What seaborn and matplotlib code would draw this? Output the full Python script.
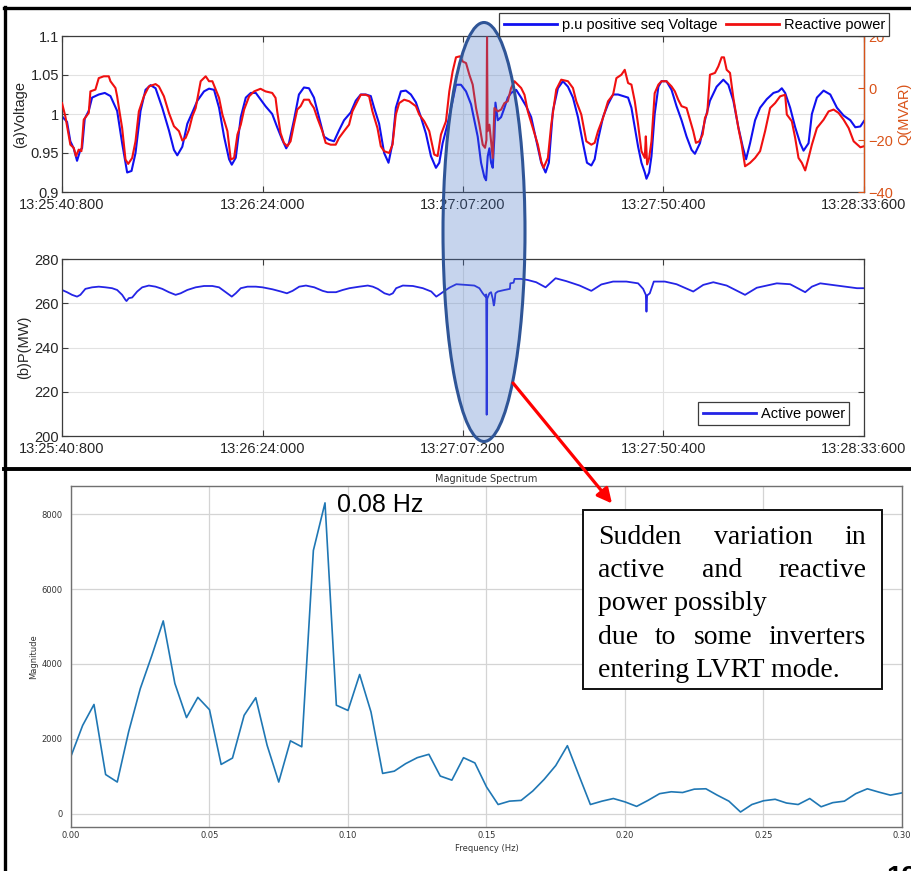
import matplotlib
matplotlib.use("Agg")
import matplotlib.pyplot as plt
import numpy as np
import pandas as pd
import seaborn as sns
from matplotlib.patches import Ellipse, Rectangle, FancyArrowPatch
from matplotlib.lines import Line2D

# ------------------------------------------------------------------ data
time_tick_values = [0.0, 43.2, 86.4, 129.6, 172.8]
time_tick_labels = ["13:25:40:800", "13:26:24:000", "13:27:07:200", "13:27:50:400", "13:28:33:600"]

# (a) positive-sequence voltage (p.u.), time in s from 13:25:40.800
volt_t = [0.0, 1.08, 1.8, 2.52, 3.24, 3.96, 4.32, 4.9, 5.76, 6.48,
          7.92, 9.22, 10.44, 11.88, 12.96, 13.68, 14.04, 14.98, 15.84, 16.92,
          18.0, 19.08, 20.16, 21.6, 23.04, 24.12, 24.84, 25.92, 27.0, 28.08,
          29.16, 30.6, 31.68, 32.76, 33.84, 34.92, 36.0, 36.58, 37.44, 38.52,
          39.6, 40.68, 41.76,
          43.85, 45.29, 46.37, 47.45, 48.31, 48.89, 49.97, 51.05, 52.13, 53.21,
          54.29, 55.37, 56.45, 57.53, 58.61, 59.69, 60.77, 62.21, 63.29, 64.37,
          65.45, 66.53, 67.25, 68.33, 69.41, 70.35, 71.21, 71.93, 73.01, 74.09,
          75.17, 76.25, 77.33, 78.41, 79.49, 80.57, 81.29, 82.01, 83.09, 84.17,
          84.89, 85.97, 87.05, 88.13, 88.85, 89.57, 90.29, 91.01, 91.37, 91.73,
          92.09, 92.45, 92.81, 93.17, 93.39, 93.89, 94.61, 95.33, 96.05, 96.77,
          97.85, 98.93, 100.01, 101.09, 102.17, 103.25, 104.19, 104.9, 105.77, 106.85,
          107.93, 109.01, 110.09, 111.17, 112.25, 113.11, 114.05, 114.77, 115.49, 116.57,
          117.65, 118.73, 119.81, 120.89, 121.97, 122.69, 123.41, 124.13, 124.85, 125.57,
          125.93, 126.51, 127.01, 127.7,
          128.5, 129.17, 130.25, 131.33, 132.41, 133.49, 134.57, 135.65, 136.37, 137.45,
          138.53, 139.61, 141.05, 142.49, 143.57, 144.65, 145.73, 146.67, 147.39, 148.25,
          149.33, 150.41, 151.85, 153.29, 154.37, 155.09, 155.81, 156.89, 157.97, 159.05,
          159.77, 160.85, 161.57, 162.65, 164.09, 165.53, 166.97, 168.41, 169.85, 170.93,
          172.01, 172.8]
volt_pu = [0.997, 0.990, 0.965, 0.956, 0.940, 0.954, 0.956, 0.994, 1.004, 1.021,
           1.025, 1.027, 1.023, 1.004, 0.9625, 0.9375, 0.925, 0.927, 0.950, 1.004,
           1.031, 1.037, 1.033, 1.008, 0.979, 0.954, 0.947, 0.958, 0.9875, 1.002,
           1.017, 1.029, 1.0325, 1.031, 1.008, 0.971, 0.942, 0.935, 0.944, 0.996,
           1.021, 1.027, 1.027,
           1.010, 1.0, 0.983, 0.967, 0.956, 0.9625, 0.992, 1.025, 1.034, 1.033,
           1.021, 0.996, 0.971, 0.967, 0.965, 0.979, 0.992, 1.002, 1.017, 1.025,
           1.025, 1.023, 1.008, 0.9875, 0.950, 0.9375, 0.9625, 1.008, 1.029, 1.030,
           1.025, 1.015, 0.996, 0.975, 0.946, 0.931, 0.9375, 0.9625, 0.9875, 1.017,
           1.0375, 1.0375, 1.029, 1.0125, 0.992, 0.971, 0.9375, 0.919, 0.915, 0.946,
           0.956, 0.9375, 0.931, 0.971, 1.0146, 0.992, 0.996, 1.008, 1.021, 1.027,
           1.031, 1.021, 1.010, 0.996, 0.967, 0.9375, 0.925, 0.9375, 1.004, 1.033,
           1.042, 1.035, 1.021, 0.996, 0.9625, 0.9375, 0.934, 0.942, 0.967, 0.996,
           1.0125, 1.025, 1.025, 1.023, 1.021, 1.008, 0.983, 0.958, 0.9375, 0.925,
           0.917, 0.925, 0.946, 1.0,
           1.035, 1.042, 1.042, 1.031, 1.010, 0.992, 0.971, 0.954, 0.949, 0.9625,
           0.992, 1.017, 1.035, 1.044, 1.0375, 1.017, 0.983, 0.958, 0.942, 0.9625,
           0.992, 1.008, 1.019, 1.027, 1.029, 1.033, 1.027, 1.008, 0.983, 0.9625,
           0.953, 0.9625, 1.0, 1.021, 1.030, 1.025, 1.008, 0.998, 0.992, 0.983,
           0.984, 0.991]

# (a) reactive power (MVAR)
q_t = [0.0, 0.72, 1.8, 2.52, 3.02, 3.6, 4.18, 4.68, 5.76, 6.12,
       7.2, 7.92, 9.0, 10.08, 10.44, 11.52, 11.88, 12.38, 12.96, 13.68,
       14.26, 15.12, 15.84, 16.56, 17.64, 18.72, 20.16, 20.88, 21.96, 23.04,
       24.12, 25.2, 25.92, 26.64, 27.36, 28.08, 28.8, 29.88, 30.96, 31.68,
       32.4, 33.12, 33.84, 34.56, 35.64, 36.36, 37.08, 37.8, 38.52, 39.24,
       40.32, 41.4,
       42.77, 43.85, 45.29, 46.01, 46.37, 47.09, 47.81, 48.53, 49.25, 49.97,
       50.69, 51.41, 52.13, 53.21, 53.57, 54.29, 55.01, 56.09, 56.81, 57.89,
       58.97, 59.69, 60.77, 61.85, 62.57, 63.65, 64.37, 65.45, 66.17, 66.89,
       67.97, 68.69, 69.41, 70.49, 71.21, 71.93, 72.65, 73.73, 74.81, 76.25,
       76.97, 78.05, 79.13, 80.21, 80.93, 81.65, 82.73, 83.45, 84.17, 84.89,
       85.75, 86.33, 87.05, 87.77, 88.49, 89.21, 89.93, 90.65, 91.15, 91.45,
       91.58, 91.7, 92.09, 92.45, 92.81, 93.17, 93.89, 94.61, 95.33, 96.05,
       96.77, 97.49, 98.21, 98.93, 99.65, 100.37, 101.45, 102.53, 103.25, 103.75,
       104.69, 105.41, 106.49, 107.57, 109.01, 110.09, 110.81, 111.89, 112.97, 114.05,
       114.77, 115.49, 116.57, 117.65, 118.73, 119.45, 120.53, 121.25, 121.97, 122.69,
       123.41, 124.13, 124.85, 125.57, 125.79, 126.07, 126.5, 127.01, 127.7,
       128.5, 129.17, 130.25, 131.33, 132.05, 132.77, 133.49, 134.57, 135.29, 136.01,
       136.59, 137.31, 138.03, 138.53, 139.03, 139.61, 140.69, 141.41, 142.13, 142.63,
       143.21, 143.93, 144.65, 145.73, 146.45, 147.17, 148.25, 149.33, 150.41, 151.49,
       152.57, 153.65, 154.73, 155.81, 156.17, 157.25, 157.97, 158.69, 159.41, 160.13,
       160.85, 161.57, 162.65, 164.09, 165.17, 166.25, 167.33, 168.41, 169.49, 170.57,
       172.01, 172.8]
q_mvar = [-5.8, -10.9, -21.8, -23, -26.2, -23.7, -24.3, -12.2, -9.6, -1.3,
          -0.6, 3.8, 4.5, 4.5, 2.6, 0, -3.2, -9, -15.4, -27.5,
          -29.2, -26.9, -20.5, -9, -3.2, 0.6, 1.5, 0.6, -3.2, -9.6,
          -14.7, -16.6, -20.2, -19.2, -16, -10.9, -7.7, 2.6, 4.5, 2.6,
          2.6, -0.6, -3.8, -10.2, -16.6, -27.5, -26.9, -17.9, -14.1, -8.3,
          -3.2, -1.3,
          -0.3, -1.3, -1.9, -3.8, -9, -17.3, -21.1, -22.4, -20.5, -14.1,
          -8.3, -7, -4.5, -4.5, -5.8, -7.7, -11.5, -16.6, -21.1, -21.8,
          -21.8, -19.2, -16.6, -14.1, -9, -5.1, -2.6, -2.6, -3.2, -9,
          -15.4, -22.4, -24.3, -25, -21.8, -10.2, -5.8, -4.5, -5.1, -7,
          -10.2, -12.8, -16.6, -25.6, -26.2, -17.9, -12.8, -1.3, 6.4, 11.8,
          12.2, 10.2, 9.6, 5.1, 1.3, -7.7, -14.1, -21.8, -23, -20,
          19.5, -16.6, -14.1, -20.5, -26.9, -7.7, -9, -8.3, -5.8, -5.1,
          0, 2.6, 1.3, 0, -2.6, -9, -15.4, -21.8, -28.2, -30.7,
          -26.9, -14.1, -0.6, 3.2, 2.6, 0, -5.1, -10.2, -20.5, -21.8,
          -21.1, -16.6, -11.5, -5.1, -2.6, 3.8, 5.1, 7, 1.9, 1.3,
          -5.1, -14.1, -24.3, -26.9, -18.6, -29.4, -27, -20.5, -2,
          1.3, 2.6, 2.6, 0.6, -1.3, -4.5, -7, -7.7, -12.2, -16.6,
          -21.1, -20.5, -17.9, -11.5, -9.6, 5.1, 5.8, 8.3, 11.8, 11.8,
          7, 5.8, -3.8, -15.4, -21.8, -30.1, -28.8, -26.9, -24.3, -16.6,
          -7.7, -5.8, -3.2, -2.6, -10.2, -12.8, -19.2, -26.9, -28.8, -31.7,
          -26.9, -21.8, -15.4, -12.2, -9, -8.3, -9.6, -12.2, -15.4, -20.5,
          -22.8, -22.4]

# (b) active power (MW)
p_t = [0.0, 1.08, 2.16, 3.24, 3.96, 5.04, 6.48, 7.92, 9.36, 10.8,
       11.88, 12.96, 13.68, 13.9, 14.4, 15.12, 16.2, 17.28, 18.72, 20.16,
       21.6, 23.04, 24.48, 25.56, 27.0, 28.8, 30.6, 32.4, 33.84, 35.28,
       36.58, 37.44, 38.52, 39.96, 41.76, 43.2, 45.36, 47.16, 48.46, 49.68,
       51.12, 52.56, 54.36, 56.16, 57.24, 59.04, 60.48, 61.92, 64.08, 65.88,
       66.96, 68.04, 69.48, 70.56, 71.28, 72.0, 73.44, 75.6, 77.76, 79.56,
       80.64, 81.36, 82.44, 83.52, 84.96, 86.98, 88.85, 89.93, 90.65, 91.23,
       91.4, 91.5, 91.62, 92.09, 92.45, 92.81, 93.03, 93.17, 93.39, 93.89,
       95.33, 96.05, 96.5, 96.6, 97.3, 97.5, 98.93, 100.37, 102.17, 104.19,
       106.35, 108.65, 111.53, 114.05, 116.21, 118.73, 121.61, 124.13, 125.21, 125.79,
       125.93, 126.07, 126.65, 127.51, 129.89, 132.41, 136.01, 138.17, 140.33, 143.21,
       147.17, 149.69, 154.01, 156.89, 160.13, 161.57, 163.37, 166.97, 171.29, 172.8]
p_mw = [266.0, 265.0, 263.8, 263.0, 263.8, 266.5, 267.2, 267.5, 267.2, 266.8,
        266.0, 263.8, 261.5, 261.0, 262.3, 262.6, 265.3, 267.2, 268.0, 267.5,
        266.5, 265.0, 263.8, 264.5, 266.0, 267.2, 267.8, 267.8, 267.2, 265.0,
        263.0, 264.5, 266.8, 267.5, 267.5, 267.2, 266.3, 265.3, 264.5, 265.6,
        267.5, 268.0, 267.2, 265.6, 265.0, 265.0, 266.0, 266.8, 267.5, 268.0,
        267.5, 266.5, 264.5, 263.8, 264.5, 266.8, 268.0, 267.8, 266.8, 265.3,
        263.0, 264.0, 265.6, 267.1, 268.6, 268.3, 268.0, 266.8, 264.5, 263.0,
        264.0, 209.6, 262.0, 264.5, 265.0, 262.0, 259.0, 260.0, 264.5, 265.3,
        266.0, 266.3, 266.5, 269.0, 269.3, 271.0, 271.0, 270.5, 269.5, 267.2,
        271.3, 270.0, 268.0, 265.6, 268.5, 269.8, 269.8, 269.0, 266.5, 263.8,
        256.2, 263.5, 264.5, 269.8, 269.8, 268.6, 265.3, 268.3, 269.5, 268.0,
        263.8, 267.0, 269.0, 268.6, 265.0, 267.5, 269.0, 268.0, 266.8, 266.8]

# magnitude spectrum
freq_hz = [0.0, 0.0042, 0.0083, 0.0125, 0.0167, 0.0208, 0.025, 0.0292, 0.0333, 0.0375,
           0.0417, 0.0458, 0.05, 0.0542, 0.0583, 0.0625, 0.0667, 0.0708, 0.075, 0.0792,
           0.0833, 0.0875, 0.0917, 0.0958, 0.1, 0.1042, 0.1083, 0.1125, 0.1167, 0.1208,
           0.125, 0.1292, 0.1333, 0.1375, 0.1417, 0.1458, 0.15, 0.1542, 0.1583, 0.1625,
           0.1667, 0.1708, 0.175, 0.1792, 0.1833, 0.1875, 0.1917, 0.1958, 0.2, 0.2042,
           0.2083, 0.2125, 0.2167, 0.2208, 0.225, 0.2292, 0.2333, 0.2375, 0.2417, 0.2458,
           0.25, 0.2542, 0.2583, 0.2625, 0.2667, 0.2708, 0.275, 0.2792, 0.2833, 0.2875,
           0.2917, 0.2958, 0.3]
magnitude = [1540, 2360, 2920, 1050, 850, 2190, 3340, 4230, 5150, 3480,
             2570, 3110, 2780, 1320, 1490, 2630, 3100, 1830, 850, 1950,
             1790, 7030, 8300, 2900, 2760, 3720, 2720, 1080, 1140, 1340,
             1500, 1590, 1010, 900, 1500, 1360, 720, 250, 340, 360,
             610, 920, 1290, 1820, 1040, 250, 340, 410, 320, 200,
             360, 540, 590, 570, 660, 670, 500, 340, 50, 250,
             350, 390, 290, 250, 410, 190, 300, 340, 540, 670,
             580, 500, 560]
freq_ticks = [0.0, 0.05, 0.10, 0.15, 0.20, 0.25, 0.30]
mag_ticks = [0, 2000, 4000, 6000, 8000]

note_lines = [["Sudden", "variation", "in"],
              ["active", "and", "reactive"],
              ["power possibly"],
              ["due", "to", "some", "inverters"],
              ["entering LVRT mode."]]

# ------------------------------------------------------------------ figure
W, H = 912, 871
plt.rcParams["font.family"] = ["Liberation Sans", "DejaVu Sans"]
fig = plt.figure(figsize=(W / 100, H / 100), dpi=100)


def fx(p):
    return p / W


def fy(p):
    return 1 - p / H


BLUE = "#1010f0"
RED = "#f01010"
ORANGE = "#D95319"
TXT = "#262626"
SPINE = "#3c3c3c"
FS = 10.5


def matlab_style(ax, right=True):
    for s in ax.spines.values():
        s.set_color(SPINE)
        s.set_linewidth(0.9)
    ax.grid(True, color="#e2e2e2", lw=0.8)
    ax.set_axisbelow(True)
    ax.tick_params(axis="both", direction="in", length=4, width=0.8, color=SPINE,
                   labelsize=FS, labelcolor=TXT, top=True, right=right)
    ax.tick_params(axis="x", pad=4)
    ax.tick_params(axis="y", pad=2)
    ax.set_xlim(0, 172.8)
    ax.set_xticks(time_tick_values)
    ax.set_xticklabels(time_tick_labels)


# ---- (a) voltage / reactive power
ax1 = fig.add_axes([fx(62), fy(192), (864 - 62) / W, (192 - 36) / H])
sns.lineplot(data=pd.DataFrame({"t": volt_t, "v": volt_pu}), x="t", y="v", ax=ax1,
             color=BLUE, linewidth=1.5, estimator=None, sort=False, legend=False)
matlab_style(ax1, right=False)
ax1.set_ylim(0.9, 1.1)
ax1.set_yticks([0.9, 0.95, 1.0, 1.05, 1.1])
ax1.set_yticklabels(["0.9", "0.95", "1", "1.05", "1.1"])
ax1.set_xlabel("")
ax1.set_ylabel("(a)Voltage", fontsize=FS, color=TXT)
ax1.yaxis.set_label_coords((27 - 62) / 802, 0.5)

ax2 = ax1.twinx()
sns.lineplot(data=pd.DataFrame({"t": q_t, "q": q_mvar}), x="t", y="q", ax=ax2,
             color=RED, linewidth=1.5, estimator=None, sort=False, legend=False)
ax2.set_ylim(-40, 20)
ax2.set_yticks([-40, -20, 0, 20])
ax2.set_xlim(0, 172.8)
for k in ["top", "left", "bottom"]:
    ax2.spines[k].set_visible(False)
ax2.spines["right"].set_color(ORANGE)
ax2.spines["right"].set_linewidth(0.9)
ax2.tick_params(axis="y", direction="in", length=4, width=0.8, colors=ORANGE,
                labelsize=FS, pad=3)
ax2.set_xlabel("")
ax2.set_ylabel("Q(MVAR)", fontsize=FS, color=ORANGE)
ax2.yaxis.set_label_coords((897 - 62) / 802, 0.5)

# ---- (b) active power
ax3 = fig.add_axes([fx(62), fy(436), (864 - 62) / W, (436 - 259) / H])
sns.lineplot(data=pd.DataFrame({"t": p_t, "p": p_mw}), x="t", y="p", ax=ax3,
             color="#2424e6", linewidth=1.3, estimator=None, sort=False, legend=False)
matlab_style(ax3, right=True)
ax3.set_ylim(200, 280)
ax3.set_yticks([200, 220, 240, 260, 280])
ax3.set_xlabel("")
ax3.set_ylabel("(b)P(MW)", fontsize=FS, color=TXT)
ax3.yaxis.set_label_coords((31 - 62) / 802, 0.5)
ax3.legend([Line2D([], [], color="#2424e6", lw=2)], ["Active power"],
           loc="lower right", bbox_to_anchor=(fx(849.5), fy(425)),
           bbox_transform=fig.transFigure, fontsize=FS, frameon=True, fancybox=False,
           edgecolor=SPINE, framealpha=1, handlelength=3.65, handletextpad=0.35,
           borderpad=0.3, borderaxespad=0)
ax3.get_legend().get_frame().set_linewidth(0.9)

# legend of (a), drawn above the orange "20" label as in the source
leg = fig.legend([Line2D([], [], color=BLUE, lw=2), Line2D([], [], color=RED, lw=2)],
                 ["p.u positive seq Voltage", "Reactive power"],
                 loc="upper right", bbox_to_anchor=(fx(889.5), fy(13.3)),
                 ncol=2, fontsize=FS, frameon=True, fancybox=False, edgecolor=SPINE,
                 framealpha=1, handlelength=3.65, handletextpad=0.35,
                 columnspacing=0.55, borderpad=0.3, borderaxespad=0)
leg.get_frame().set_linewidth(0.9)
leg.set_zorder(6)

# ---- magnitude spectrum
ax4 = fig.add_axes([fx(71), fy(827), (902 - 71) / W, (827 - 486) / H])
sns.lineplot(data=pd.DataFrame({"f": freq_hz, "m": magnitude}), x="f", y="m", ax=ax4,
             color="#1f77b4", linewidth=1.2, estimator=None, sort=False, legend=False)
ax4.set_xlim(0, 0.3)
ax4.set_ylim(-350, 8750)
ax4.set_xticks(freq_ticks)
ax4.set_xticklabels([f"{v:.2f}" for v in freq_ticks])
ax4.set_yticks(mag_ticks)
ax4.grid(True, color="#d4d4d4", lw=0.9)
ax4.set_axisbelow(True)
for s in ax4.spines.values():
    s.set_color("#707070")
    s.set_linewidth(1.0)
ax4.tick_params(axis="both", length=0, labelsize=6, labelcolor="#333333")
ax4.tick_params(axis="x", pad=3)
ax4.tick_params(axis="y", pad=6)
for lbl in ax4.get_xticklabels() + ax4.get_yticklabels():
    lbl.set_fontfamily("DejaVu Sans")
ax4.set_title("Magnitude Spectrum", fontsize=7, family="DejaVu Sans", color="#333333", pad=3)
ax4.set_xlabel("Frequency (Hz)", fontsize=6, family="DejaVu Sans", color="#333333")
ax4.set_ylabel("Magnitude", fontsize=6, family="DejaVu Sans", color="#333333")
ax4.xaxis.set_label_coords(0.5, (827 - 844) / 341)
ax4.yaxis.set_label_coords((38 - 71) / 831, 0.5)

fig.text(fx(337), fy(511.5), "0.08 Hz", fontsize=18, family=["Liberation Sans", "DejaVu Sans"],
         color="black", ha="left", va="baseline")

# ---- annotations: frame lines, ellipse, arrow, note box
for xs, ys, lw in [([5, 5], [7, 871], 2.4), ([4, 912], [8, 8], 2.4), ([4, 912], [468.5, 468.5], 2.8)]:
    fig.add_artist(Line2D([fx(x) for x in xs], [fy(y) for y in ys], transform=fig.transFigure,
                          color="black", lw=lw, zorder=3))

fig.add_artist(Ellipse((fx(484), fy(232)), 82 / W, 419 / H, transform=fig.transFigure,
                       facecolor="#4472C4", alpha=0.3, edgecolor="none", zorder=4))
fig.add_artist(Ellipse((fx(484), fy(232)), 82 / W, 419 / H, transform=fig.transFigure,
                       facecolor="none", edgecolor="#2F5597", lw=2.2, zorder=4.1))

fig.add_artist(FancyArrowPatch((fx(513), fy(383)), (fx(612), fy(503.5)), transform=fig.transFigure,
                               arrowstyle="-|>", mutation_scale=22, color="#ff0000", lw=2.3,
                               shrinkA=0, shrinkB=0, zorder=5))

fig.add_artist(Rectangle((fx(582.7), fy(689.3)), (881.7 - 582.7) / W, (689.3 - 510) / H,
                         transform=fig.transFigure, facecolor="white", edgecolor="#111111",
                         lw=1.4, zorder=5))

word_x = [[597.7, 714.3, None], [597.7, 701.7, None], [597.7], [597.7, 655, 694, None], [597.7]]
baselines = [544, 577.3, 610.5, 644, 677.3]
for words, xs, yb in zip(note_lines, word_x, baselines):
    for w, x in zip(words, xs):
        if x is None:
            fig.text(fx(866), fy(yb), w, ha="right", va="baseline", fontsize=20,
                     family=["Liberation Serif", "DejaVu Serif"], color="black", zorder=6)
        else:
            fig.text(fx(x), fy(yb), w, ha="left", va="baseline", fontsize=20,
                     family=["Liberation Serif", "DejaVu Serif"], color="black", zorder=6)

fig.text(fx(886), fy(885), "12", fontsize=20, fontweight="bold", ha="left", va="baseline",
         color="black")

fig.savefig("out.png", dpi=100)
